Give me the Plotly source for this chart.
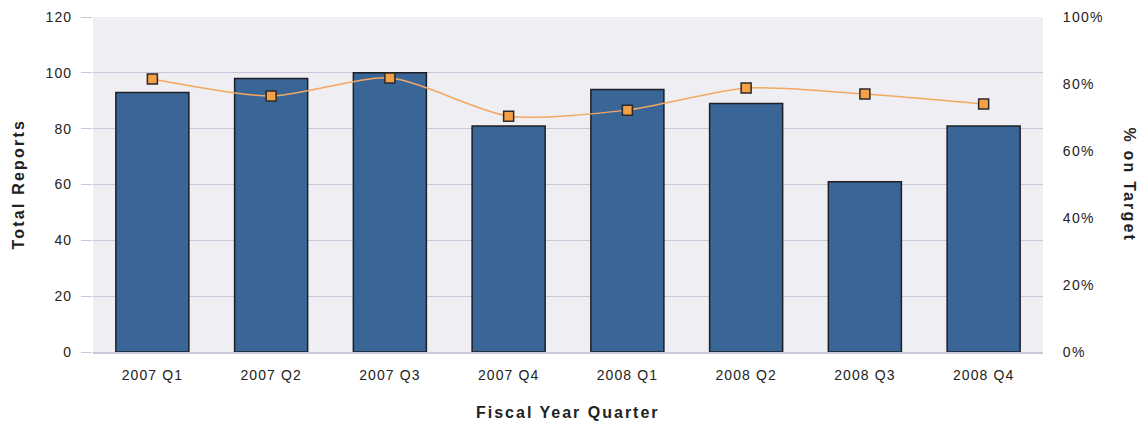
import plotly.graph_objects as go

quarters = ["2007 Q1", "2007 Q2", "2007 Q3", "2007 Q4", "2008 Q1", "2008 Q2", "2008 Q3", "2008 Q4"]
total_reports = [93, 98, 100, 81, 94, 89, 61, 81]
pct_on_target = [0.815, 0.764, 0.818, 0.704, 0.722, 0.788, 0.770, 0.740]
left_ticks = [0, 20, 40, 60, 80, 100, 120]
right_ticks = [0, 0.2, 0.4, 0.6, 0.8, 1.0]

GRID = "#c9c7d9"
FONT = "Liberation Sans, Arial, sans-serif"
TXT = "#222222"


def spaced(s, sp=1.0):
    # the original renderer draws text slightly letter-spaced
    return f"<span style='letter-spacing:{sp}px'>{s}</span>"


fig = go.Figure()
fig.add_trace(go.Bar(
    x=quarters, y=total_reports, name="Total Reports",
    marker=dict(color="#3a6597", line=dict(color="#1c1f26", width=1.5)),
    width=0.615,
))
fig.add_trace(go.Scatter(
    x=quarters, y=pct_on_target, name="% on Target", yaxis="y2",
    mode="lines+markers",
    line=dict(color="#f3a861", width=1.5, shape="spline", smoothing=0.7),
    marker=dict(symbol="square", size=10, color="#f4a046", line=dict(color="#2a2a2a", width=1.5)),
))

fig.update_layout(
    width=1140, height=415,
    margin=dict(l=85, r=105, t=9, b=71),
    paper_bgcolor="white", plot_bgcolor="#efeef3",
    showlegend=False,
    font=dict(family=FONT, size=14, color=TXT),
    xaxis=dict(
        showgrid=False, showline=True, linecolor=GRID, linewidth=1.5,
        ticks="outside", ticklen=9, tickcolor="rgba(0,0,0,0)",
        tickvals=quarters, ticktext=[spaced(q, 1.1) for q in quarters],
        automargin=False,
    ),
    yaxis=dict(
        range=[0, 120], showgrid=True, gridcolor=GRID, gridwidth=1.2,
        tickvals=left_ticks, ticktext=[spaced(v, 1.1) for v in left_ticks],
        ticks="outside", ticklen=11, tickcolor=GRID, tickwidth=1.2,
        ticklabelstandoff=6, zeroline=False, automargin=False,
    ),
    yaxis2=dict(
        overlaying="y", side="right", range=[0, 1],
        tickvals=right_ticks, ticktext=[spaced(f"{round(v * 100)}%", 1.3) for v in right_ticks],
        showgrid=False, zeroline=False,
        ticks="outside", ticklen=16, tickcolor="rgba(0,0,0,0)",
        automargin=False,
    ),
    annotations=[
        dict(text="<b>" + spaced("Fiscal Year Quarter", 2.0) + "</b>", showarrow=False,
             xref="paper", yref="paper", x=0.5, y=0, yshift=-60,
             xanchor="center", yanchor="middle",
             font=dict(size=16, color=TXT)),
        dict(text="<b>" + spaced("Total Reports", 2.2) + "</b>", textangle=-90, showarrow=False,
             xref="paper", yref="paper", x=0, xshift=-75, y=0.5,
             xanchor="center", yanchor="middle",
             font=dict(size=16, color=TXT)),
        dict(text="<b>" + spaced("% on Target", 2.2) + "</b>", textangle=90, showarrow=False,
             xref="paper", yref="paper", x=1, xshift=86, y=0.5,
             xanchor="center", yanchor="middle",
             font=dict(size=16, color=TXT)),
    ],
)

fig.write_html("out.html")
